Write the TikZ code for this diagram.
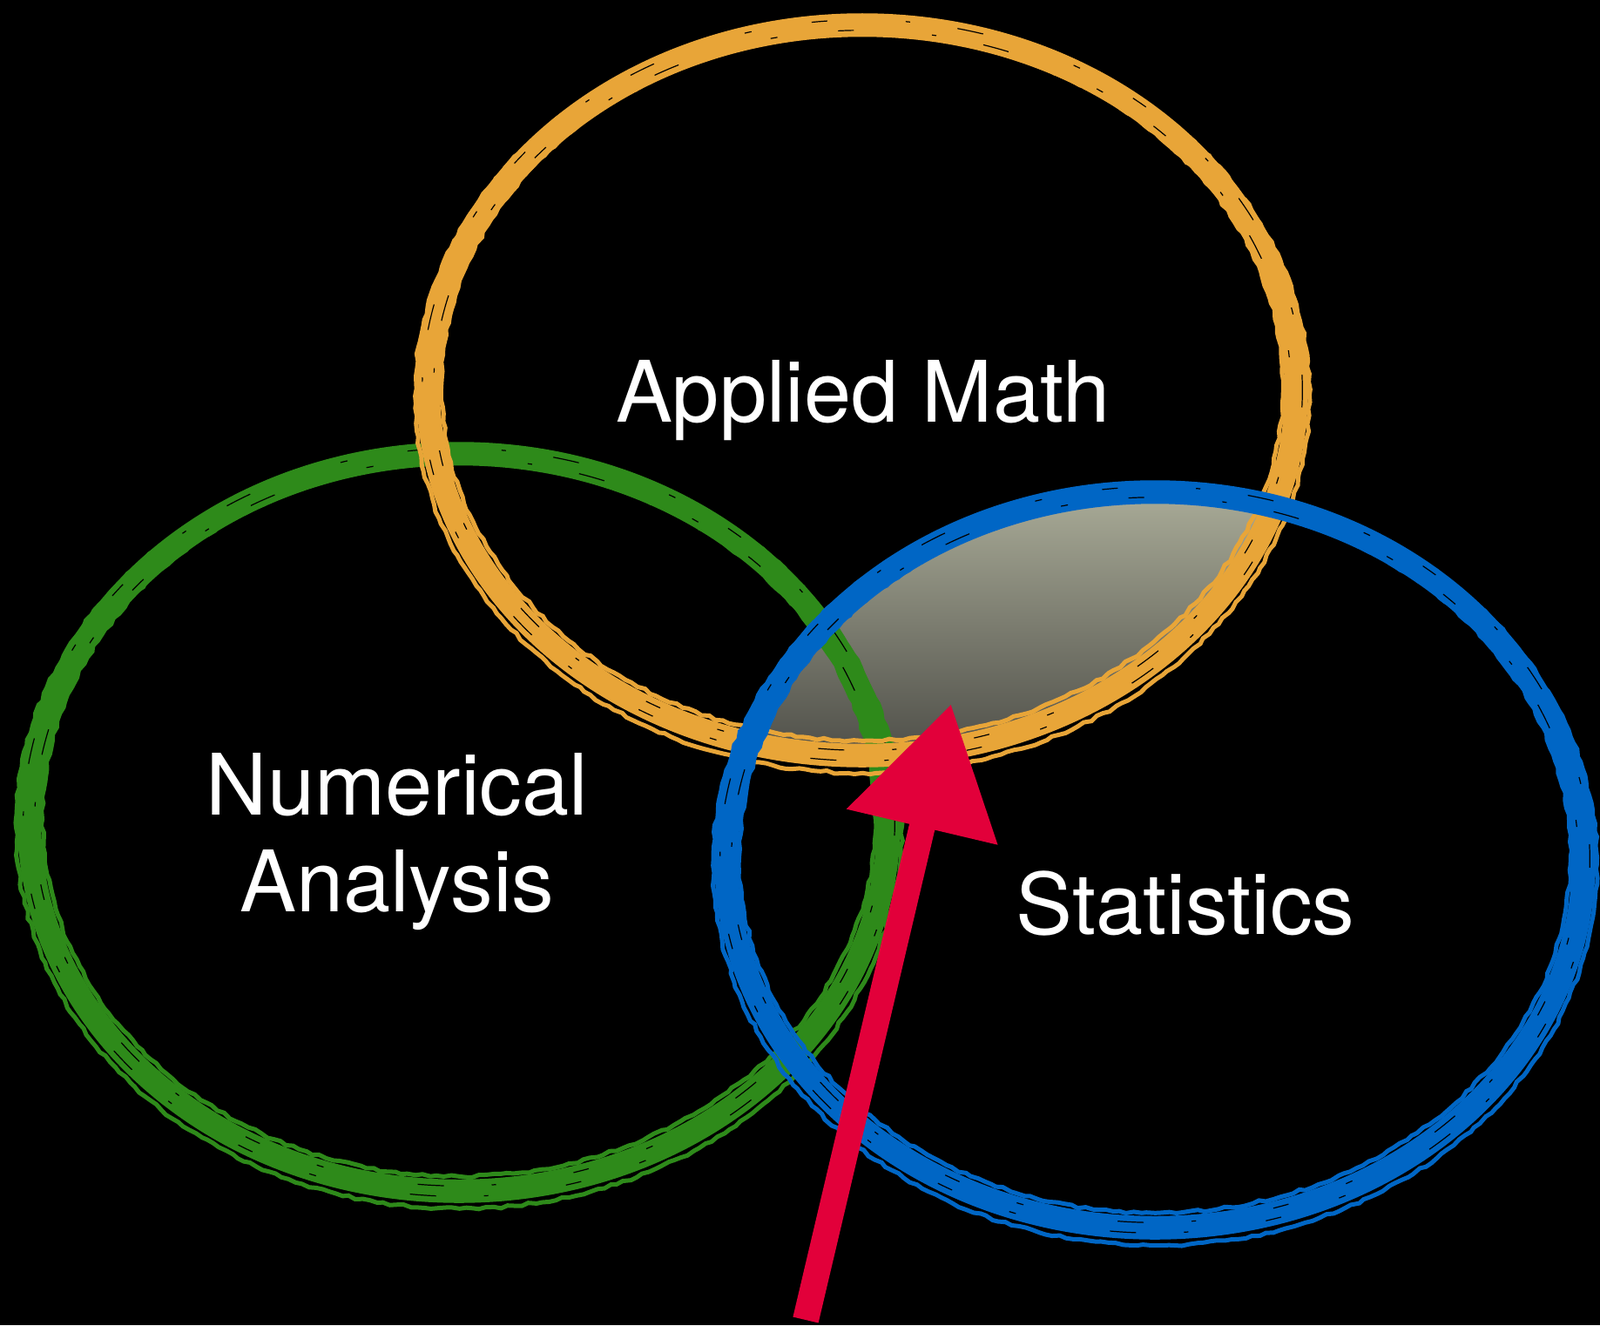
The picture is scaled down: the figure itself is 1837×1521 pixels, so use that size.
\documentclass[tikz,border=0pt]{standalone}
\usepackage{fontspec}
\setmainfont{TeX Gyre Heros}
\usetikzlibrary{arrows.meta,decorations.pathmorphing}
\definecolor{ringorange}{RGB}{232,165,56}
\definecolor{ringgreen}{RGB}{46,138,26}
\definecolor{ringblue}{RGB}{0,102,197}
\definecolor{arrowred}{RGB}{226,0,58}
\definecolor{shadetop}{RGB}{170,172,152}
\definecolor{shadebottom}{RGB}{78,78,72}

\begin{document}
\begin{tikzpicture}[x=0.01cm, y=-0.01cm]
\tikzstyle{setname} = [text=white, font=\fontsize{27.7}{31.6}\selectfont, inner sep=0pt];
\tikzstyle{brush} = [line width=0.27cm];
\tikzstyle{bristle} = [line width=0.05cm, decorate, decoration={random steps, segment length=0.08cm, amplitude=0.015cm}];
\tikzstyle{fleck} = [black, line width=0.012cm, dash pattern=on 0.18cm off 0.7cm on 0.08cm off 1.1cm on 0.3cm off 0.55cm on 0.05cm off 0.9cm];

% background and page size
\fill[black] (0,0) rectangle (1837,1521);
\useasboundingbox (0,0) rectangle (1837,1521);

% shaded overlap of applied math and statistics
\begin{scope}
\clip (990,448) ellipse [x radius=4.98cm, y radius=4.19cm];
\clip (1326,987) ellipse [x radius=4.91cm, y radius=4.21cm];
\shade[top color=shadetop, bottom color=shadebottom] (800,560) rectangle (1500,870);
\end{scope}

% the three brushed rings
\foreach \cx/\cy/\rx/\ry/\col in {527/944/4.93/4.23/ringgreen, 990/448/4.98/4.19/ringorange, 1326/987/4.92/4.22/ringblue} {
  \draw[brush, \col] (\cx,\cy) ellipse [x radius=\rx cm, y radius=\ry cm];
  \draw[bristle, \col] (\cx,\cy+6) ellipse [x radius=\rx cm+0.15cm, y radius=\ry cm+0.14cm];
  \draw[bristle, \col] (\cx,\cy-4) ellipse [x radius=\rx cm-0.15cm, y radius=\ry cm-0.13cm];
  \draw[fleck] (\cx,\cy) ellipse [x radius=\rx cm+0.07cm, y radius=\ry cm+0.06cm];
  \draw[fleck, dash phase=0.5cm] (\cx,\cy) ellipse [x radius=\rx cm-0.06cm, y radius=\ry cm-0.06cm];
}

% arrow into the overlap
\coordinate (ekor) at (925,1515);
\coordinate (ujung) at (1092,808);
\draw[arrowred, line width=0.3cm, -{Triangle[length=1.45cm, width=1.7cm]}] (ekor) -- (ujung);

% set names
\node (applied) [setname, anchor=base] at (991,484) {Applied Math};
\node (numerical) [setname, align=center] at (456,966) {Numerical\\Analysis};
\node (stats) [setname, anchor=base] at (1361,1072) {Statistics};
\end{tikzpicture}
\end{document}
